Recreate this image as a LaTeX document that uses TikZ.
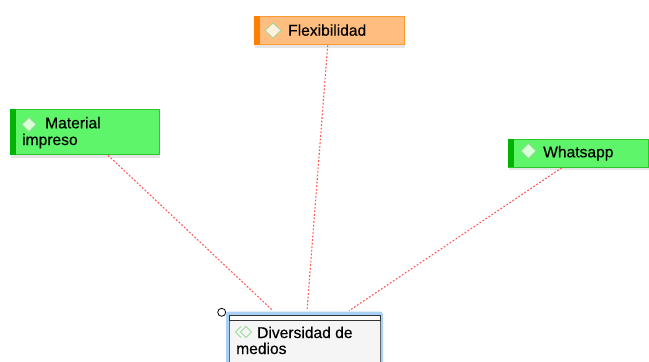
\documentclass[tikz,border=0pt]{standalone}
\usepackage{fontspec}
\setmainfont{Liberation Sans}
\newfontfamily\labelfont[FakeBold=0.35]{Liberation Sans}
\usetikzlibrary{calc}
\definecolor{gfill}{HTML}{5EF56A}
\definecolor{gborder}{HTML}{2DC42D}
\definecolor{gbar}{HTML}{00B300}
\definecolor{ofill}{HTML}{FFBE80}
\definecolor{oborder}{HTML}{FF9A30}
\definecolor{obar}{HTML}{FF8000}
\definecolor{linkred}{HTML}{FF5A5A}
\definecolor{glow}{HTML}{A9D0F5}
\definecolor{iconline}{HTML}{9ADB9A}
\tikzset{
  box/.style={draw, line width=0.8pt, rectangle, inner sep=0pt, anchor=north west},
  greenbox/.style={box, fill=gfill, draw=gborder},
  orangebox/.style={box, fill=ofill, draw=oborder},
  shadowbox/.style={rectangle, inner sep=0pt, anchor=north west, fill=black, opacity=0.10},
  label/.style={inner sep=0pt, anchor=base west, font=\labelfont\fontsize{15.6}{17}\selectfont, text=black},
  link/.style={draw=linkred, line width=1.1pt, dash pattern=on 1.8pt off 1.8pt},
  dia/.style={fill=#1, draw=iconline, line width=0.8pt},
}
\begin{document}
\begin{tikzpicture}[x=1pt,y=-1pt]
\useasboundingbox (0,0) rectangle (649,362);
\fill[white] (0,0) rectangle (649,362);

% shadows
\node[shadowbox, minimum width=149pt, minimum height=3pt] (matsh) at (11,154.5) {};
\node[shadowbox, minimum width=150pt, minimum height=3pt] (flexsh) at (255,44.5) {};
\node[shadowbox, minimum width=140pt, minimum height=3pt] (whsh) at (509,166.5) {};

% Material impreso
\node[greenbox, minimum width=149pt, minimum height=45pt] (mat) at (10,109) {};
\fill[gbar] (mat.north west) rectangle ($(mat.south west)+(6,0)$);
\path[dia=white!85!green] (22,124.5) -- (29,117.5) -- (36,124.5) -- (29,131.5) -- cycle;
\node[label] (matt1) at (45,128.3) {Material};
\node[label] (matt2) at (22,145) {impreso};

% Flexibilidad
\node[orangebox, minimum width=150pt, minimum height=28pt] (flex) at (254,16) {};
\fill[obar] (flex.north west) rectangle ($(flex.south west)+(6,0)$);
\path[dia=white!88!orange] (265,30.5) -- (273,23) -- (281,30.5) -- (273,38) -- cycle;
\node[label] (flext) at (288,35.7) {Flexibilidad};

% Whatsapp
\node[greenbox, minimum width=140pt, minimum height=28pt] (wh) at (508,138.5) {};
\fill[gbar] (wh.north west) rectangle ($(wh.south west)+(6,0)$);
\path[dia=white!85!green] (521,151) -- (528.5,143.5) -- (536,151) -- (528.5,158.5) -- cycle;
\node[label] (wht) at (543,157.3) {Whatsapp};

% Diversidad de medios
\fill[glow, rounded corners=3pt] (226,311.5) rectangle (383,372);
\node[box, draw=black!60, fill=black!4, line width=0.8pt, minimum width=151pt, minimum height=52pt] (div) at (228.5,320) {};
\node[box, draw=black!80, fill=white, line width=0.9pt, minimum width=151pt, minimum height=5pt] (divbar) at (228.5,315.3) {};
\draw[iconline, line width=1pt] (241,326.5) -- (235.5,332) -- (241,337.5);
\draw[iconline, line width=1pt] (246,326.5) -- (240.5,332) -- (246,337.5) -- (251.5,332) -- cycle;
\node[label] (divt1) at (257,338) {Diversidad de};
\node[label] (divt2) at (236,354) {medios};
\node[circle, draw=black, fill=white, line width=0.8pt, minimum size=8pt, inner sep=0pt] (handle) at (221.7,312.3) {};

% connectors
\coordinate (matA) at ($(mat.south west)+(98,0.5)$);
\coordinate (flexA) at ($(flex.south west)+(73.7,0.5)$);
\coordinate (whA) at ($(wh.south west)+(53.7,0.5)$);
\coordinate (divA) at ($(divbar.north west)+(44.5,-4.5)$);
\coordinate (divB) at ($(divbar.north west)+(78.5,-4.5)$);
\coordinate (divC) at ($(divbar.north west)+(120.5,-4.5)$);
\draw[link] (matA) -- (divA);
\draw[link] (flexA) -- (divB);
\draw[link] (whA) -- (divC);
\end{tikzpicture}
\end{document}
